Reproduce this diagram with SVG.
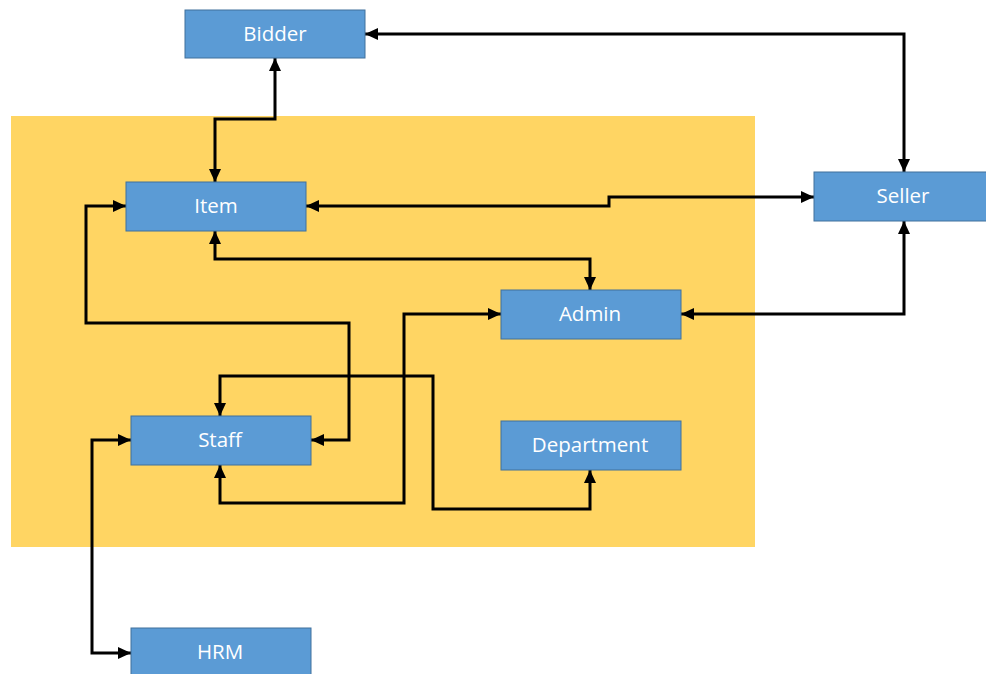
<svg xmlns="http://www.w3.org/2000/svg" width="986" height="674" viewBox="0 0 986 674">
<style>
.box{fill:#5B9BD5;stroke:#41719C;stroke-width:1}
.lbl{fill:#FFFFFF;font-family:"Open Sans","Liberation Sans",sans-serif;font-size:20.5px;text-anchor:middle}
.con{fill:none;stroke:#000;stroke-width:3;marker-start:url(#ah);marker-end:url(#ah)}
</style>
<defs>
<marker id="ah" markerUnits="userSpaceOnUse" markerWidth="13" markerHeight="12" refX="13" refY="6" orient="auto-start-reverse">
<path d="M0,0 L13,6 L0,12 z" fill="#000"/>
</marker>
</defs>
<rect width="986" height="674" fill="#FFFFFF"/>
<rect id="zone" x="11" y="116" width="744" height="431" fill="#FFD563"/>
<g id="connectors">
<path class="con" d="M275,58 V119 H215 V182"/>
<path class="con" d="M365,34 H904 V172"/>
<path class="con" d="M306,206 H609 V197 H814"/>
<path class="con" d="M215,231 V259 H590 V290"/>
<path class="con" d="M681,314 H904 V221"/>
<path class="con" d="M126,206 H86 V323 H349 V440 H311"/>
<path class="con" d="M220,465 V503 H404 V314 H501"/>
<path class="con" d="M220,416 V376 H433 V509 H590 V470"/>
<path class="con" d="M131,440 H92 V653 H131"/>
</g>
<g id="bidder"><rect class="box" x="185" y="10" width="180" height="48"/><text class="lbl" x="275" y="41">Bidder</text></g>
<g id="item"><rect class="box" x="126" y="182" width="180" height="49"/><text class="lbl" x="216" y="213">Item</text></g>
<g id="seller"><rect class="box" x="814" y="172" width="180" height="49"/><text class="lbl" x="903" y="203">Seller</text></g>
<g id="admin"><rect class="box" x="501" y="290" width="180" height="49"/><text class="lbl" x="590" y="321">Admin</text></g>
<g id="department"><rect class="box" x="501" y="421" width="180" height="49"/><text class="lbl" x="590" y="452">Department</text></g>
<g id="staff"><rect class="box" x="131" y="416" width="180" height="49"/><text class="lbl" x="220" y="447">Staff</text></g>
<g id="hrm"><rect class="box" x="131" y="628" width="180" height="49"/><text class="lbl" x="220" y="659">HRM</text></g>
</svg>
